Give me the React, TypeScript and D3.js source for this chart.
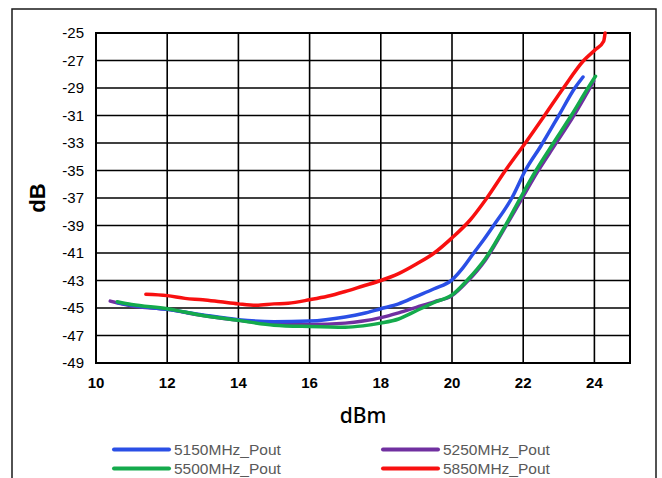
import { useEffect, useRef } from "react";
import * as d3 from "d3";

// x = output power (dBm), y = level (dB)
const blueX = [10.6, 11, 12, 13, 14, 15, 16, 17, 17.5, 18, 18.5, 19, 19.5, 20, 20.3, 20.61, 20.9, 21.17, 21.68, 22.06, 22.5, 23.0, 23.45, 23.68];
const blueY = [-44.6, -44.8, -45.1, -45.5, -45.85, -46.0, -45.95, -45.65, -45.4, -45.05, -44.7, -44.15, -43.6, -42.95, -42.1, -41.0, -40.0, -39.0, -37.0, -35.0, -33.2, -31.0, -29.0, -28.2];

const purpleX = [10.4, 11, 12, 13, 14, 15, 16, 17, 17.5, 18, 18.5, 19, 19.5, 20, 20.42, 20.94, 21.5, 21.95, 22.4, 22.9, 23.4, 23.85, 23.98];
const purpleY = [-44.5, -44.85, -45.1, -45.55, -45.9, -46.15, -46.2, -46.1, -45.95, -45.7, -45.35, -44.95, -44.55, -44.1, -43.1, -41.5, -39.1, -37.1, -35.1, -33.1, -31.1, -29.1, -28.5];

const greenX = [10.6, 11, 12, 13, 14, 15, 16, 17, 17.5, 18, 18.5, 19, 19.5, 20, 20.42, 20.94, 21.5, 21.92, 22.36, 22.85, 23.35, 23.82, 24.03];
const greenY = [-44.55, -44.75, -45.05, -45.55, -45.9, -46.25, -46.35, -46.4, -46.3, -46.1, -45.8, -45.2, -44.6, -44.05, -43.0, -41.4, -39.0, -37.0, -35.0, -33.0, -31.0, -29.0, -28.15];

const redX = [11.4, 12, 12.5, 13, 13.5, 14, 14.5, 15, 15.4, 16, 16.5, 17, 17.5, 18, 18.5, 19, 19.5, 20, 20.51, 20.98, 21.5, 22.06, 22.6, 23.13, 23.7, 24.03, 24.26, 24.3];
const redY = [-44.0, -44.1, -44.3, -44.4, -44.55, -44.7, -44.8, -44.7, -44.65, -44.4, -44.15, -43.8, -43.4, -43.0, -42.5, -41.8, -41.0, -39.9, -38.6, -37.0, -35.0, -33.0, -31.0, -29.0, -27.0, -26.2, -25.6, -25.0];

const seriesNames = ["5150MHz_Pout", "5250MHz_Pout", "5500MHz_Pout", "5850MHz_Pout"];
const xTicks = [10, 12, 14, 16, 18, 20, 22, 24];
const yTicks = [-25, -27, -29, -31, -33, -35, -37, -39, -41, -43, -45, -47, -49];

export default function App() {
  const ref = useRef<SVGSVGElement>(null);

  useEffect(() => {
    const width = 662;
    const height = 478;
    const margin = { top: 33, right: 32, bottom: 115, left: 96 };

    const svg = d3.select(ref.current);
    svg.selectAll("*").remove();
    svg.attr("width", width).attr("height", height);

    svg.append("rect").attr("width", width).attr("height", height).attr("fill", "#fff");

    // outer frame
    svg
      .append("rect")
      .attr("x", 12)
      .attr("y", 9)
      .attr("width", 644)
      .attr("height", 490)
      .attr("fill", "none")
      .attr("stroke", "#1a1a1a")
      .attr("stroke-width", 1.5);

    const x = d3.scaleLinear().domain([10, 25]).range([margin.left, width - margin.right]);
    const y = d3.scaleLinear().domain([-49, -25]).range([height - margin.bottom, margin.top]);

    const font = "Arial, 'Liberation Sans', sans-serif";

    // grid
    const grid = svg.append("g").attr("stroke", "#000").attr("stroke-width", 1.6);
    grid
      .selectAll("line.v")
      .data(xTicks)
      .join("line")
      .attr("x1", (d) => x(d))
      .attr("x2", (d) => x(d))
      .attr("y1", y(-25))
      .attr("y2", y(-49));
    grid
      .selectAll("line.h")
      .data(yTicks)
      .join("line")
      .attr("x1", x(10))
      .attr("x2", x(25))
      .attr("y1", (d) => y(d))
      .attr("y2", (d) => y(d));
    svg
      .append("rect")
      .attr("x", x(10))
      .attr("y", y(-25))
      .attr("width", x(25) - x(10))
      .attr("height", y(-49) - y(-25))
      .attr("fill", "none")
      .attr("stroke", "#000")
      .attr("stroke-width", 2);

    // tick labels
    svg
      .append("g")
      .selectAll("text")
      .data(yTicks)
      .join("text")
      .attr("x", 84)
      .attr("y", (d) => y(d))
      .attr("dy", "0.36em")
      .attr("text-anchor", "end")
      .attr("font-family", font)
      .attr("font-size", 15)
      .attr("fill", "#000")
      .text((d) => d);

    svg
      .append("g")
      .selectAll("text")
      .data(xTicks)
      .join("text")
      .attr("x", (d) => x(d))
      .attr("y", 383)
      .attr("dy", "0.36em")
      .attr("text-anchor", "middle")
      .attr("font-family", font)
      .attr("font-size", 15)
      .attr("font-weight", "bold")
      .attr("fill", "#000")
      .text((d) => d);

    // axis titles
    svg
      .append("text")
      .attr("transform", "translate(45,198) rotate(-90)")
      .attr("text-anchor", "middle")
      .attr("font-family", font)
      .attr("font-size", 22)
      .attr("font-weight", "bold")
      .text("dB");
    svg
      .append("text")
      .attr("x", 363)
      .attr("y", 423)
      .attr("text-anchor", "middle")
      .attr("font-family", "'Noto Sans', sans-serif")
      .attr("font-size", 21)
      .attr("font-weight", 500)
      .text("dBm");

    const series = [
      { name: seriesNames[1], xs: purpleX, ys: purpleY, color: "#7030a0" },
      { name: seriesNames[0], xs: blueX, ys: blueY, color: "#2a4fe6" },
      { name: seriesNames[2], xs: greenX, ys: greenY, color: "#14aa4c" },
      { name: seriesNames[3], xs: redX, ys: redY, color: "#f81010" },
    ];

    const line = d3
      .line<[number, number]>()
      .x((d) => x(d[0]))
      .y((d) => y(d[1]))
      .curve(d3.curveMonotoneX);

    series.forEach((s) => {
      const pts = s.xs.map((v, i) => [v, s.ys[i]] as [number, number]);
      svg
        .append("path")
        .datum(pts)
        .attr("fill", "none")
        .attr("stroke", s.color)
        .attr("stroke-width", 3.5)
        .attr("stroke-linecap", "round")
        .attr("stroke-linejoin", "round")
        .attr("d", line);
    });

    // legend
    const legendItems = [
      { name: seriesNames[0], color: "#2a4fe6", lx: 114, ly: 449.5 },
      { name: seriesNames[1], color: "#7030a0", lx: 383, ly: 449.5 },
      { name: seriesNames[2], color: "#14aa4c", lx: 114, ly: 468.5 },
      { name: seriesNames[3], color: "#f81010", lx: 383, ly: 468.5 },
    ];
    const lg = svg.append("g");
    legendItems.forEach((it) => {
      lg.append("line")
        .attr("x1", it.lx)
        .attr("x2", it.lx + 55)
        .attr("y1", it.ly)
        .attr("y2", it.ly)
        .attr("stroke", it.color)
        .attr("stroke-width", 4)
        .attr("stroke-linecap", "round");
      lg.append("text")
        .attr("x", it.lx + 60)
        .attr("y", it.ly)
        .attr("dy", "0.36em")
        .attr("font-family", font)
        .attr("font-size", 15.5)
        .attr("fill", "#595959")
        .text(it.name);
    });
  }, []);

  return <svg ref={ref} style={{ position: "absolute", left: 0, top: 0 }} />;
}
